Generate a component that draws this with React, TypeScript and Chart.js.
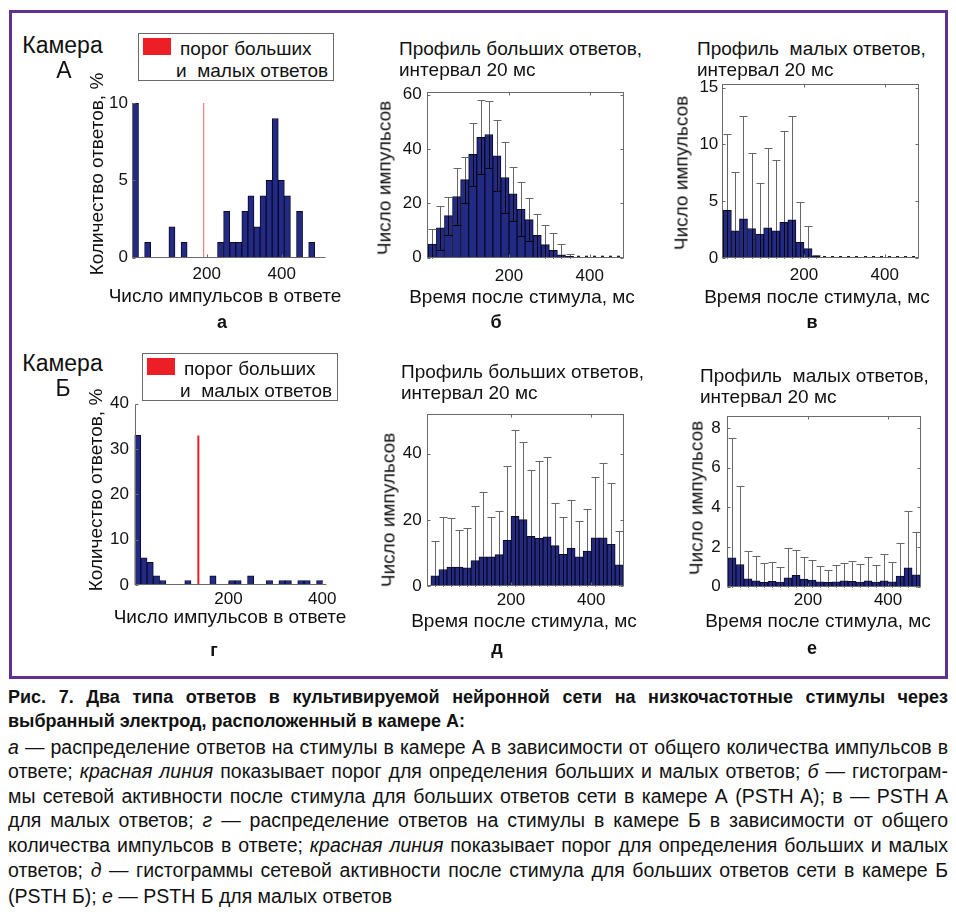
import React, { useEffect, useRef } from 'react';
import { Chart, registerables } from 'chart.js';

Chart.register(...registerables);

const FONT = "'Liberation Sans', Arial, Helvetica, sans-serif";

// ---------- Panel а: distribution of responses, chamber A ----------
const spikeBinsA = [10.1, 26.3, 42.5, 58.7, 74.9, 91.1, 107.3, 123.5, 139.7, 155.9, 172.1, 188.3, 204.5, 220.7, 236.9, 253.1, 269.3, 285.5, 301.7, 317.9, 334.1, 350.3, 366.5, 382.7, 398.9, 415.1, 431.3, 447.5, 463.7, 479.9];
const responseShareA = [10, 0, 1, 0, 0, 0, 2, 0, 1, 0, 0, 0, 0, 0, 1, 3, 1, 1, 3, 4, 2, 4, 5, 9, 5, 4, 0, 3, 0, 1];
const thresholdA = 192;
const thresholdTopA = 10;
const yTicksA = [0, 5, 10];

// ---------- Panel г: distribution of responses, chamber Б ----------
const spikeBinsB = [6.7, 20.1, 33.4, 46.8, 60.2, 73.6, 86.9, 100.3, 113.7, 127.0, 140.4, 153.8, 167.1, 180.5, 193.9, 207.3, 220.6, 234.0, 247.4, 260.7, 274.1, 287.5, 300.8, 314.2, 327.6, 341.0, 354.3, 367.7, 381.1, 394.4];
const responseShareB = [33, 6, 5, 2, 1, 0, 0, 0, 1, 0, 0, 0, 2, 0, 0, 1, 1, 0, 2, 0, 0, 1, 0, 1, 1, 0, 1, 1, 0, 1];
const thresholdB = 136;
const thresholdTopB = 33;
const yTicksB = [0, 10, 20, 30, 40];

const xTicksCount = [200, 400];

// ---------- PSTH panels (20 ms bins) ----------
const timeBins = [10, 30, 50, 70, 90, 110, 130, 150, 170, 190, 210, 230, 250, 270, 290, 310, 330, 350, 370, 390, 410, 430, 450, 470];
const timeTicks = [200, 400];

// б — large responses, chamber A
const bigMeanA = [5, 11, 15.5, 22.5, 28.7, 38, 44.3, 45.3, 37.5, 29.5, 23.5, 17.8, 14, 8.2, 4.8, 2.7, 1.1, 0.5, 0, 0, 0, 0, 0, 0];
const bigUpperA = [10.7, 19, 22.5, 32.8, 37.2, 49.5, 58, 57.5, 50.5, 42.5, 33.5, 27.7, 21.8, 16.1, 12.2, 9.2, 5.1, 1.2, 0, 0, 0, 0, 0, 0];
const yTicksBigA = [0, 20, 40, 60];

// в — small responses, chamber A
const smallMeanA = [4.2, 2.4, 3.45, 2.6, 2.1, 2.66, 2.4, 3.13, 3.36, 1.37, 0.82, 0.15, 0, 0, 0, 0, 0, 0, 0, 0, 0, 0, 0, 0];
const smallUpperA = [10.9, 7.55, 12.5, 9.27, 6.58, 9.7, 8.63, 11.17, 12.5, 4.9, 2.78, 0.3, 0, 0, 0, 0, 0, 0, 0, 0, 0, 0, 0, 0];
const yTicksSmallA = [0, 5, 10, 15];

// д — large responses, chamber Б
const bigMeanB = [3.1, 5.0, 5.7, 5.7, 5.5, 7.7, 8.8, 8.8, 9.5, 13.8, 21.1, 20.1, 15.0, 14.4, 14.9, 12.2, 9.6, 11.5, 8.8, 10.6, 14.6, 14.6, 12.6, 6.4];
const bigUpperB = [13.7, 20.9, 20.6, 17.0, 17.4, 24.2, 28.5, 20.8, 22.7, 36.4, 47.2, 43.6, 35.1, 37.7, 38.9, 25.2, 20.9, 25.9, 19.6, 23.2, 32.9, 37.1, 31.2, 16.6];
const yTicksBigB = [0, 20, 40];

// е — small responses, chamber Б
const smallMeanB = [1.45, 1.12, 0.4, 0.3, 0.22, 0.27, 0.23, 0.45, 0.57, 0.38, 0.33, 0.25, 0.22, 0.25, 0.3, 0.27, 0.23, 0.3, 0.23, 0.3, 0.25, 0.53, 0.95, 0.6];
const smallUpperB = [7.47, 5.08, 1.78, 1.57, 1.2, 1.25, 1.0, 1.97, 1.83, 1.52, 1.37, 1.03, 0.82, 1.1, 1.17, 1.3, 1.12, 1.48, 1.08, 1.67, 1.25, 2.2, 3.8, 2.77];
const yTicksSmallB = [0, 2, 4, 6, 8];

// ---------- styles ----------
const BAR_FILL = '#222a84';
const BAR_EDGE = '#0a0a28';
const AXIS_COLOR = '#6a6a6a';
const TICK_SIZE = 17;
const TITLE_SIZE = 19;

const decorPlugin = {
  id: 'decor',
  afterDatasetsDraw(chart: any, _args: any, o: any) {
    const { ctx, chartArea: ca, scales } = chart;
    const xs = scales.x;
    const ys = scales.y;
    const L = Math.round(ca.left) + 0.5;
    const R = Math.round(ca.right) - 0.5;
    const T = Math.round(ca.top) + 0.5;
    const B = Math.round(ca.bottom) - 0.5;
    ctx.save();
    ctx.lineWidth = 1;
    const seg = (x1: number, y1: number, x2: number, y2: number) => {
      ctx.beginPath();
      ctx.moveTo(x1, y1);
      ctx.lineTo(x2, y2);
      ctx.stroke();
    };
    if (o.means && o.upper) {
      const half = o.cap / 2;
      o.means.forEach((m: number, i: number) => {
        const px = Math.round(xs.getPixelForValue(o.bins[i])) + 0.5;
        const u = o.upper[i];
        const y0 = ys.getPixelForValue(0);
        if (u <= 0) {
          ctx.fillStyle = '#222';
          ctx.fillRect(px - 1.5, y0 - 2, 3, 2);
          return;
        }
        const yU = Math.round(ys.getPixelForValue(u)) + 0.5;
        const yM = ys.getPixelForValue(m);
        const low = 2 * m - u;
        const yL = Math.round(ys.getPixelForValue(Math.max(low, 0))) + 0.5;
        ctx.strokeStyle = o.upColor;
        seg(px, yU, px, yM);
        seg(px - half, yU, px + half, yU);
        ctx.strokeStyle = o.inColor;
        seg(px, yM, px, yL);
        if (low > 0) seg(px - half, yL, px + half, yL);
      });
    }
    ctx.strokeStyle = o.axisColor;
    if (o.box) {
      ctx.strokeRect(L, T, R - L, B - T);
    } else {
      seg(L, B, R, B);
      seg(L, B, L, T);
    }
    const tl = 3;
    (o.xTicks || []).forEach((v: number) => {
      const px = Math.round(xs.getPixelForValue(v)) + 0.5;
      seg(px, B, px, B - tl);
      if (o.box) seg(px, T, px, T + tl);
    });
    (o.yTicks || []).forEach((v: number) => {
      const py = Math.round(ys.getPixelForValue(v)) + 0.5;
      seg(L, py, L + tl, py);
      if (o.box) seg(R, py, R - tl, py);
    });
    ctx.restore();
  },
};

type Geo = { cL: number; cT: number; cR: number; cB: number; pL: number; pT: number; pR: number; pB: number };

type PanelSpec = {
  geo: Geo;
  bins: number[];
  values: number[];
  xMin: number;
  xMax: number;
  yMax: number;
  xTicks: number[];
  yTicks: number[];
  xTitle: string;
  yTitle: string;
  xTitlePos: [number, number];
  yTitlePos: [number, number];
  xTickPad: number;
  yTickPad: number;
  box: boolean;
  threshold?: number;
  thresholdTop?: number;
  thresholdColor?: string;
  thresholdWidth?: number;
  upper?: number[];
};

function buildConfig(p: PanelSpec): any {
  const g = p.geo;
  const datasets: any[] = [
    {
      type: 'bar',
      data: p.bins.map((b, i) => ({ x: b, y: p.values[i] })),
      backgroundColor: BAR_FILL,
      borderColor: BAR_EDGE,
      borderWidth: 1,
      borderSkipped: 'start',
      barPercentage: 1,
      categoryPercentage: 1,
      order: 2,
    },
  ];
  if (p.threshold !== undefined) {
    datasets.push({
      type: 'line',
      data: [
        { x: p.threshold, y: 0 },
        { x: p.threshold, y: p.thresholdTop },
      ],
      borderColor: p.thresholdColor,
      borderWidth: p.thresholdWidth,
      pointRadius: 0,
      order: 1,
    });
  }
  return {
    type: 'bar',
    data: { datasets },
    options: {
      responsive: false,
      animation: false,
      events: [],
      layout: { padding: { top: g.pT - g.cT, right: g.cR - g.pR, left: 0, bottom: 0 } },
      plugins: {
        legend: { display: false },
        tooltip: { enabled: false },
        decor: {
          box: p.box,
          axisColor: AXIS_COLOR,
          xTicks: p.xTicks,
          yTicks: p.yTicks,
          bins: p.bins,
          means: p.upper ? p.values : null,
          upper: p.upper || null,
          cap: 8,
          upColor: '#666666',
          inColor: '#050505',
        },
      },
      scales: {
        x: {
          type: 'linear',
          min: p.xMin,
          max: p.xMax,
          offset: false,
          grid: { display: false, drawTicks: false },
          border: { display: false },
          ticks: { padding: p.xTickPad, font: { size: TICK_SIZE, family: FONT }, color: '#111', maxRotation: 0, autoSkip: false },
          afterBuildTicks: (s: any) => {
            s.ticks = p.xTicks.map((v) => ({ value: v }));
          },
          afterFit: (s: any) => {
            s.height = g.cB - g.pB;
          },
          title: { display: false },
        },
        y: {
          type: 'linear',
          min: 0,
          max: p.yMax,
          grid: { display: false, drawTicks: false },
          border: { display: false },
          ticks: { padding: p.yTickPad, font: { size: TICK_SIZE, family: FONT }, color: '#111', autoSkip: false },
          afterBuildTicks: (s: any) => {
            s.ticks = p.yTicks.map((v) => ({ value: v }));
          },
          afterFit: (s: any) => {
            s.width = g.pL - g.cL;
          },
          title: { display: false },
        },
      },
    },
    plugins: [decorPlugin],
  };
}

function ChartPanel({ spec }: { spec: PanelSpec }) {
  const ref = useRef<HTMLCanvasElement>(null);
  const g = spec.geo;
  const w = g.cR - g.cL;
  const h = g.cB - g.cT;
  useEffect(() => {
    const chart = new Chart(ref.current as HTMLCanvasElement, buildConfig(spec));
    return () => chart.destroy();
  }, []);
  return (
    <>
      <canvas
        ref={ref}
        width={w}
        height={h}
        style={{ position: 'absolute', left: g.cL, top: g.cT, width: w, height: h }}
      />
      <Txt x={spec.xTitlePos[0]} cy={spec.xTitlePos[1]} size={TITLE_SIZE} center>{spec.xTitle}</Txt>
      <RotTxt cx={spec.yTitlePos[0]} cy={spec.yTitlePos[1]} size={TITLE_SIZE}>{spec.yTitle}</RotTxt>
    </>
  );
}

const countXTitle = 'Число импульсов в ответе';
const countYTitle = 'Количество ответов, %';
const timeXTitle = 'Время после стимула, мс';
const timeYTitle = 'Число импульсов';

const panels: PanelSpec[] = [
  {
    geo: { cL: 100, cT: 88, cR: 342, cB: 285, pL: 131.7, pT: 103, pR: 326, pB: 257.7 },
    bins: spikeBinsA, values: responseShareA, xMin: 0, xMax: 518, yMax: 10,
    xTicks: xTicksCount, yTicks: yTicksA, xTitle: countXTitle, yTitle: countYTitle,
    xTitlePos: [225, 295], yTitlePos: [96, 174], xTickPad: 6, yTickPad: 3.7, box: false,
    threshold: thresholdA, thresholdTop: thresholdTopA, thresholdColor: 'rgba(236,70,70,0.85)', thresholdWidth: 1,
  },
  {
    geo: { cL: 395, cT: 76, cR: 640, cB: 290, pL: 427.3, pT: 88.7, pR: 624, pB: 257.7 },
    bins: timeBins, values: bigMeanA, upper: bigUpperA, xMin: -2.5, xMax: 485, yMax: 61,
    xTicks: timeTicks, yTicks: yTicksBigA, xTitle: timeXTitle, yTitle: timeYTitle,
    xTitlePos: [522, 296.7], yTitlePos: [384, 178], xTickPad: 8.8, yTickPad: 5.6, box: true,
  },
  {
    geo: { cL: 692, cT: 70, cR: 935, cB: 290, pL: 722.3, pT: 83.6, pR: 919, pB: 258 },
    bins: timeBins, values: smallMeanA, upper: smallUpperA, xMin: -2.5, xMax: 485, yMax: 15.3,
    xTicks: timeTicks, yTicks: yTicksSmallA, xTitle: timeXTitle, yTitle: timeYTitle,
    xTitlePos: [817, 296.7], yTitlePos: [681, 172.5], xTickPad: 7.5, yTickPad: 4, box: true,
  },
  {
    geo: { cL: 102, cT: 388, cR: 343, cB: 612, pL: 134.5, pT: 401, pR: 327, pB: 585 },
    bins: spikeBinsB, values: responseShareB, xMin: 0, xMax: 410, yMax: 40,
    xTicks: xTicksCount, yTicks: yTicksB, xTitle: countXTitle, yTitle: countYTitle,
    xTitlePos: [230, 616], yTitlePos: [95, 490], xTickPad: 3.8, yTickPad: 5.5, box: false,
    threshold: thresholdB, thresholdTop: thresholdTopB, thresholdColor: '#ee1c25', thresholdWidth: 2,
  },
  {
    geo: { cL: 397, cT: 398, cR: 640, cB: 612, pL: 427.3, pT: 413, pR: 624, pB: 586 },
    bins: timeBins, values: bigMeanB, upper: bigUpperB, xMin: -9, xMax: 482, yMax: 52.1,
    xTicks: timeTicks, yTicks: yTicksBigB, xTitle: timeXTitle, yTitle: timeYTitle,
    xTitlePos: [524, 620], yTitlePos: [387.5, 510], xTickPad: 4.5, yTickPad: 5.6, box: true,
  },
  {
    geo: { cL: 705, cT: 400, cR: 936, cB: 612, pL: 726.5, pT: 414.5, pR: 920.5, pB: 586.7 },
    bins: timeBins, values: smallMeanB, upper: smallUpperB, xMin: -3.7, xMax: 481, yMax: 8.6,
    xTicks: timeTicks, yTicks: yTicksSmallB, xTitle: timeXTitle, yTitle: timeYTitle,
    xTitlePos: [818, 620], yTitlePos: [696, 498], xTickPad: 3.8, yTickPad: 5.8, box: true,
  },
];

function Txt({ x, cy, size, children, bold, center }: any) {
  const lh = Math.round(size * 1.2);
  return (
    <div
      style={{
        position: 'absolute',
        left: x,
        top: cy - lh / 2,
        fontSize: size,
        lineHeight: lh + 'px',
        fontWeight: bold ? 'bold' : 'normal',
        whiteSpace: 'pre',
        transform: center ? 'translateX(-50%)' : undefined,
        color: '#111',
      }}
    >
      {children}
    </div>
  );
}

function RotTxt({ cx, cy, size, children }: any) {
  const lh = Math.round(size * 1.2);
  return (
    <div
      style={{
        position: 'absolute',
        left: cx,
        top: cy,
        fontSize: size,
        lineHeight: lh + 'px',
        whiteSpace: 'pre',
        transform: 'translate(-50%, -50%) rotate(-90deg)',
        color: '#111',
      }}
    >
      {children}
    </div>
  );
}

function Legend({ left, top }: { left: number; top: number }) {
  return (
    <>
      <div style={{ position: 'absolute', left, top, width: 196, height: 48, border: '1px solid #6a6a6a', boxSizing: 'border-box', background: '#fff' }} />
      <div style={{ position: 'absolute', left: left + 5, top: top + 5, width: 28, height: 17, background: '#ec1f27' }} />
      <Txt x={left + 42} cy={top + 15} size={19}>порог больших</Txt>
      <Txt x={left + 38} cy={top + 37} size={19}>{'и  малых ответов'}</Txt>
    </>
  );
}

const I = ({ children }: any) => <i>{children}</i>;

const captionLines: { cy: number; bold?: boolean; justify: boolean; content: React.ReactNode }[] = [
  { cy: 697, bold: true, justify: true, content: 'Рис. 7. Два типа ответов в культивируемой нейронной сети на низкочастотные стимулы через' },
  { cy: 721, bold: true, justify: false, content: 'выбранный электрод, расположенный в камере А:' },
  { cy: 747, justify: true, content: <><I>а</I> — распределение ответов на стимулы в камере А в зависимости от общего количества импульсов в</> },
  { cy: 771, justify: true, content: <>ответе; <I>красная линия</I> показывает порог для определения больших и малых ответов; <I>б</I> — гистограм-</> },
  { cy: 796, justify: true, content: <>мы сетевой активности после стимула для больших ответов сети в камере А (PSTH A); в — PSTH A</> },
  { cy: 820, justify: true, content: <>для малых ответов; <I>г</I> — распределение ответов на стимулы в камере Б в зависимости от общего</> },
  { cy: 845, justify: true, content: <>количества импульсов в ответе; <I>красная линия</I> показывает порог для определения больших и малых</> },
  { cy: 870, justify: true, content: <>ответов; <I>д</I> — гистограммы сетевой активности после стимула для больших ответов сети в камере Б</> },
  { cy: 896, justify: false, content: <>(PSTH Б); <I>е</I> — PSTH Б для малых ответов</> },
];

export default function App() {
  return (
    <div
      style={{
        position: 'absolute',
        left: 0,
        top: 0,
        width: 956,
        height: 921,
        background: '#fff',
        fontFamily: FONT,
        color: '#111',
        overflow: 'hidden',
      }}
    >
      <div style={{ position: 'absolute', left: 9, top: 10, width: 939, height: 669, border: '3px solid #5e3192', boxSizing: 'border-box' }} />

      {panels.map((p, i) => (
        <ChartPanel key={i} spec={p} />
      ))}

      <Txt x={62.5} cy={45} size={23} center>Камера</Txt>
      <Txt x={64} cy={70} size={23} center>А</Txt>
      <Txt x={62.5} cy={363} size={23} center>Камера</Txt>
      <Txt x={63} cy={388} size={23} center>Б</Txt>

      <Legend left={138} top={33} />
      <Legend left={142} top={353} />

      <Txt x={399} cy={48} size={19}>Профиль больших ответов,</Txt>
      <Txt x={399} cy={69} size={19}>интервал 20 мс</Txt>
      <Txt x={697} cy={48} size={19}>{'Профиль  малых ответов,'}</Txt>
      <Txt x={697} cy={69} size={19}>интервал 20 мс</Txt>
      <Txt x={401} cy={371} size={19}>Профиль больших ответов,</Txt>
      <Txt x={401} cy={392} size={19}>интервал 20 мс</Txt>
      <Txt x={700} cy={375} size={19}>{'Профиль  малых ответов,'}</Txt>
      <Txt x={700} cy={396} size={19}>интервал 20 мс</Txt>

      <Txt x={222} cy={322} size={18} bold center>а</Txt>
      <Txt x={496} cy={322} size={18} bold center>б</Txt>
      <Txt x={812} cy={322} size={18} bold center>в</Txt>
      <Txt x={214} cy={650} size={18} bold center>г</Txt>
      <Txt x={497} cy={648} size={18} bold center>д</Txt>
      <Txt x={812} cy={648} size={18} bold center>е</Txt>

      {captionLines.map((l, i) => (
        <div
          key={i}
          style={{
            position: 'absolute',
            left: 8,
            width: 940,
            top: l.cy - 12,
            height: 24,
            lineHeight: '24px',
            fontSize: l.bold ? 18 : 19.5,
            fontWeight: l.bold ? 'bold' : 'normal',
            textAlign: l.justify ? 'justify' : 'left',
            textAlignLast: l.justify ? 'justify' : 'left',
            whiteSpace: 'nowrap',
            color: '#111',
          } as any}
        >
          {l.content}
        </div>
      ))}
    </div>
  );
}
